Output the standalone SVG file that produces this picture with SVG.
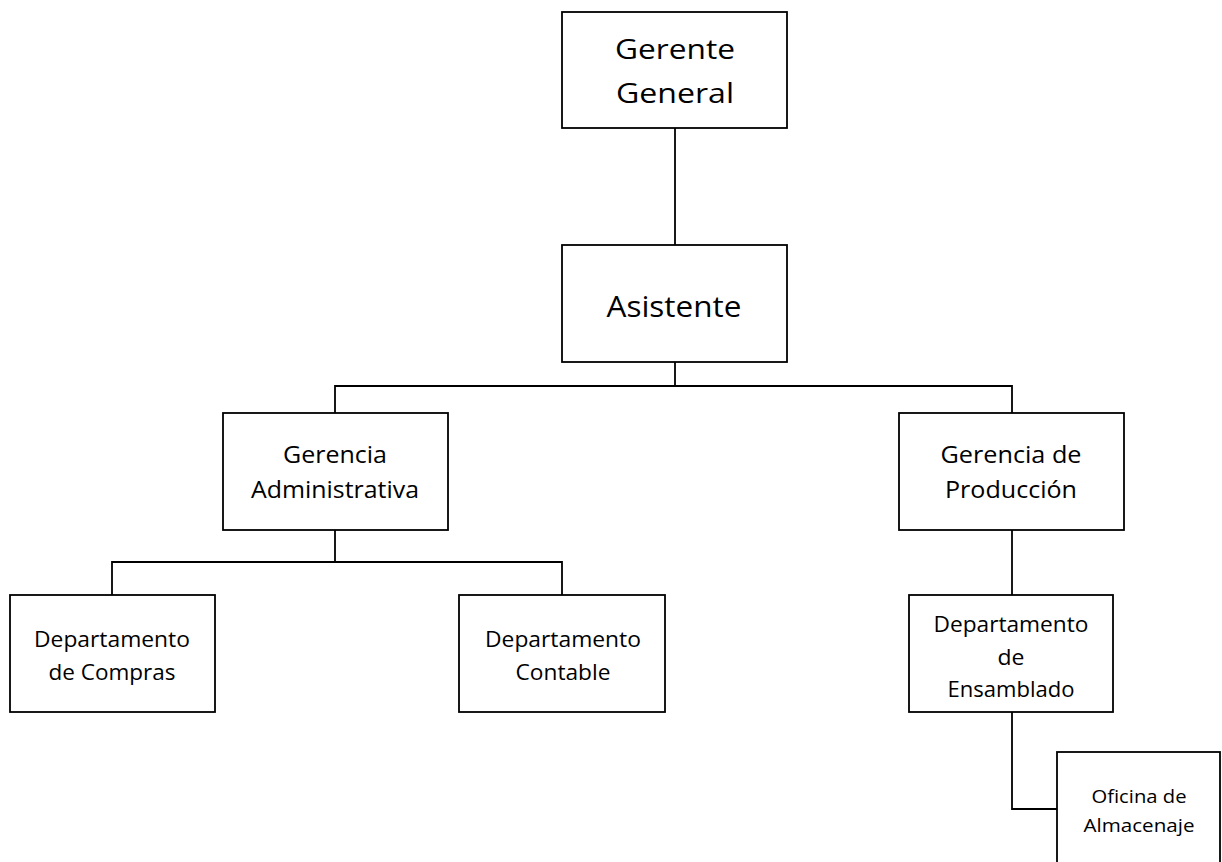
<svg xmlns="http://www.w3.org/2000/svg" width="1222" height="862" viewBox="0 0 1222 862">
  <style>
    .box { fill: #ffffff; stroke: #000000; stroke-width: 1.8; }
    .wire { fill: none; stroke: #000000; stroke-width: 1.8; stroke-linecap: square; }
    text { font-family: "Open Sans", "Liberation Sans", sans-serif; fill: #000000; text-anchor: middle; }
    .t1 { font-size: 28px; }
    .t1b { font-size: 30px; }
    .t2 { font-size: 24px; }
    .t3 { font-size: 22px; }
    .t4 { font-size: 19px; }
  </style>
  <rect width="1222" height="862" fill="#ffffff"/>

  <!-- connectors -->
  <g id="connectors">
    <path class="wire" d="M675 128 V245"/>
    <path class="wire" d="M675 362 V386 M335 413 V386 H1012 V413"/>
    <path class="wire" d="M335 530 V562 M112 595 V562 H562 V595"/>
    <path class="wire" d="M1012 530 V595"/>
    <path class="wire" d="M1012 712 V809 H1057"/>
  </g>

  <g id="gerente-general">
    <rect class="box" x="562" y="12" width="225" height="116"/>
    <text class="t1" x="675" y="59" textLength="120" lengthAdjust="spacingAndGlyphs">Gerente</text>
    <text class="t1" x="675" y="103" textLength="118" lengthAdjust="spacingAndGlyphs">General</text>
  </g>

  <g id="asistente">
    <rect class="box" x="562" y="245" width="225" height="117"/>
    <text class="t1b" x="674" y="317" textLength="135" lengthAdjust="spacingAndGlyphs">Asistente</text>
  </g>

  <g id="gerencia-administrativa">
    <rect class="box" x="223" y="413" width="225" height="117"/>
    <text class="t2" x="335" y="463" textLength="104" lengthAdjust="spacingAndGlyphs">Gerencia</text>
    <text class="t2" x="335" y="498" textLength="168" lengthAdjust="spacingAndGlyphs">Administrativa</text>
  </g>

  <g id="gerencia-produccion">
    <rect class="box" x="899" y="413" width="225" height="117"/>
    <text class="t2" x="1011" y="463" textLength="141" lengthAdjust="spacingAndGlyphs">Gerencia de</text>
    <text class="t2" x="1011" y="498" textLength="132" lengthAdjust="spacingAndGlyphs">Producción</text>
  </g>

  <g id="departamento-compras">
    <rect class="box" x="10" y="595" width="205" height="117"/>
    <text class="t3" x="112" y="647" textLength="156" lengthAdjust="spacingAndGlyphs">Departamento</text>
    <text class="t3" x="112" y="680" textLength="127" lengthAdjust="spacingAndGlyphs">de Compras</text>
  </g>

  <g id="departamento-contable">
    <rect class="box" x="459" y="595" width="206" height="117"/>
    <text class="t3" x="563" y="647" textLength="156" lengthAdjust="spacingAndGlyphs">Departamento</text>
    <text class="t3" x="563" y="680" textLength="95" lengthAdjust="spacingAndGlyphs">Contable</text>
  </g>

  <g id="departamento-ensamblado">
    <rect class="box" x="909" y="595" width="204" height="117"/>
    <text class="t3" x="1011" y="632" textLength="155" lengthAdjust="spacingAndGlyphs">Departamento</text>
    <text class="t3" x="1011" y="665" textLength="27" lengthAdjust="spacingAndGlyphs">de</text>
    <text class="t3" x="1011" y="697" textLength="127" lengthAdjust="spacingAndGlyphs">Ensamblado</text>
  </g>

  <g id="oficina-almacenaje">
    <rect class="box" x="1057" y="752" width="163" height="125"/>
    <text class="t4" x="1139" y="803" textLength="95" lengthAdjust="spacingAndGlyphs">Oficina de</text>
    <text class="t4" x="1139" y="832" textLength="111" lengthAdjust="spacingAndGlyphs">Almacenaje</text>
  </g>
</svg>
